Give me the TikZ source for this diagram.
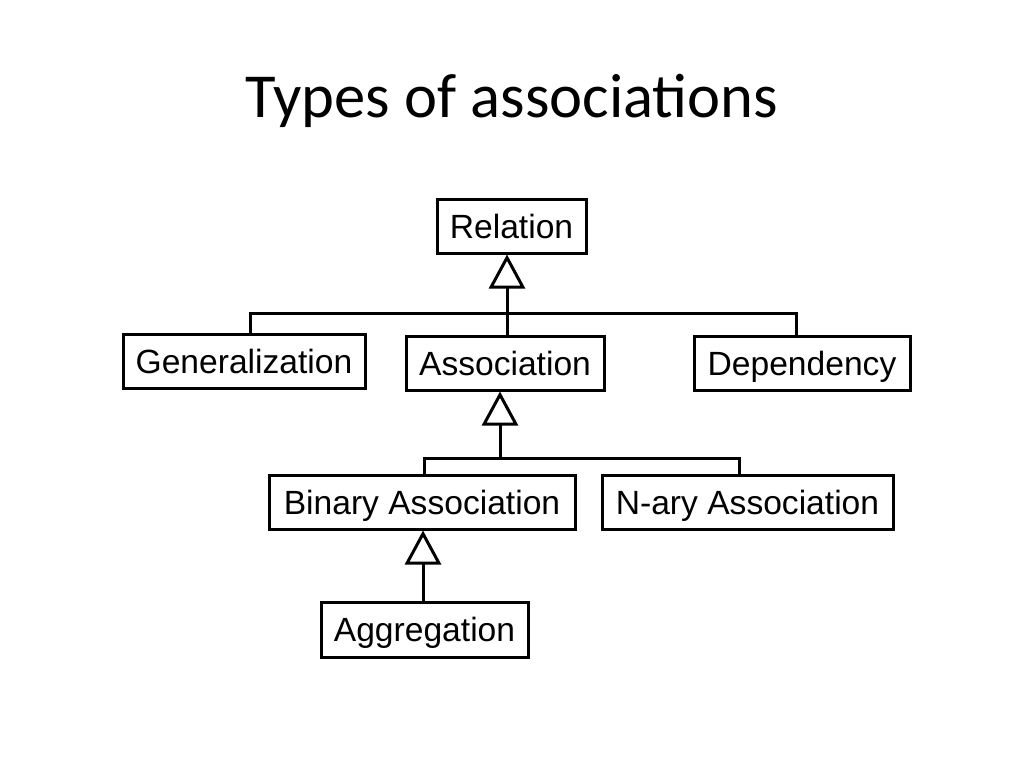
\documentclass[tikz,border=0pt]{standalone}
\usepackage{fontspec}
\setmainfont{Liberation Sans}
\newfontfamily\titlefont{Carlito}
\usetikzlibrary{arrows.meta}
\begin{document}
\begin{tikzpicture}[x=1pt,y=-1pt,
  box/.style={draw=black,line width=3pt,inner sep=0pt,font=\fontsize{33.6}{36}\selectfont,text depth=0pt},
  conn/.style={line width=3pt},
  gen/.style={conn,-{Triangle[open,length=34pt,width=36pt,fill=white]}}]
\useasboundingbox (0,0) rectangle (1024,768);
\node[font=\titlefont\fontsize{62.6}{64}\selectfont,anchor=base] (title) at (512,117) {Types of associations};
\node[box,minimum width=149pt,minimum height=54pt] (rel) at (511.5,226) {Relation};
\node[box,minimum width=242pt,minimum height=54pt] (genz) at (244,361) {Generalization};
\node[box,minimum width=198pt,minimum height=54pt] (assoc) at (505,363) {Association};
\node[box,minimum width=216pt,minimum height=54pt] (dep) at (802,363) {Dependency};
\node[box,minimum width=306pt,minimum height=54pt] (bin) at (422,502) {Binary Association};
\node[box,minimum width=291pt,minimum height=54pt] (nary) at (747.5,502) {N-ary Association};
\node[box,minimum width=207pt,minimum height=55pt] (agg) at (424.5,629.5) {Aggregation};
\coordinate (j1) at (507,313);
\coordinate (j2) at (500,458);
\draw[conn] ([xshift=6pt]genz.north) |- (j1) -| ([xshift=-6pt]dep.north);
\draw[conn] (j1) -- (j1 |- assoc.north);
\draw[gen] (j1) -- (j1 |- rel.south);
\draw[conn] ([xshift=2pt]bin.north) |- (j2) -| ([xshift=-8.5pt]nary.north);
\draw[gen] (j2) -- (j2 |- assoc.south);
\draw[gen] (agg.north -| 423,0) -- (bin.south -| 423,0);
\end{tikzpicture}
\end{document}
